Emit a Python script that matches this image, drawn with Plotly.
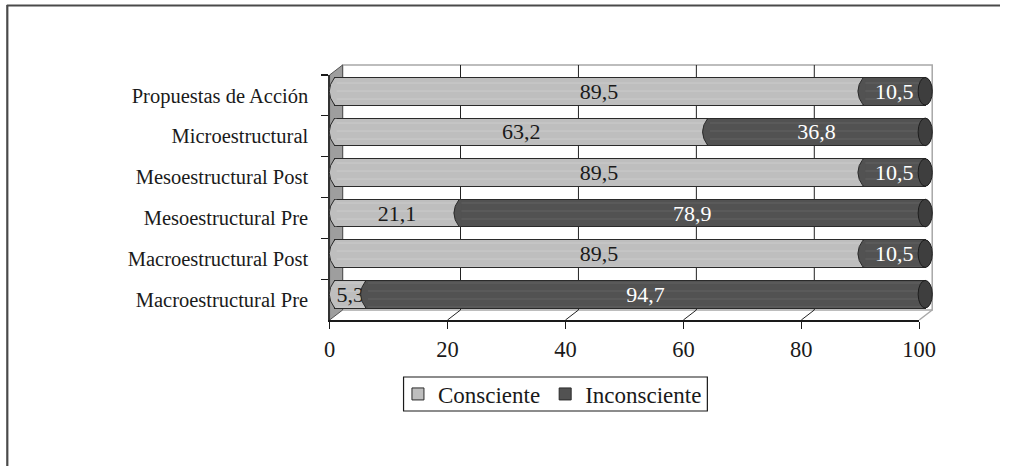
import plotly.graph_objects as go

# ---------------- data ----------------
categories = ["Macroestructural Pre", "Macroestructural Post", "Mesoestructural Pre",
              "Mesoestructural Post", "Microestructural", "Propuestas de Acción"]
consciente = [5.3, 89.5, 21.1, 89.5, 63.2, 89.5]
inconsciente = [94.7, 10.5, 78.9, 10.5, 36.8, 10.5]
x_ticks = [0, 20, 40, 60, 80, 100]
series_names = ["Consciente", "Inconsciente"]

W, H = 1017, 466
FONT = "Liberation Serif"
LIGHT, LIGHT_STRIPE = "#bebebe", "#d6d6d6"
DARK, DARK_STRIPE = "#525252", "#727272"
OUTLINE = "#2a2a2a"

# the capture squeezes the page horizontally a little; pre-compensate
XS, XO = 0.978, 5.2


def X(ref_px):
    return (ref_px - XO) / XS


def px(x):
    return x / W


def py(y):
    return 1 - y / H


def fmt(v):
    return f"{v:.1f}".replace(".", ",")


# geometry of the pseudo-3D box (target pixels)
FRONT_L, FRONT_R, FRONT_B, FRONT_T = X(329), X(919), 320, 75
BACK_L, BACK_R, BACK_B, BACK_T = X(342), X(932), 310, 65

# bar axis: 0 -> 334 px, 100 -> 925 px, with padding so caps are not clipped
BX0, BX100 = X(334), X(925)
PAD = 3.0
SCALE = (BX100 - BX0) / 100.0

fig = go.Figure()

idx = list(range(len(categories)))
BAR_W = 0.68

fig.add_trace(go.Bar(
    y=idx, x=consciente, orientation="h", name=series_names[0], showlegend=False,
    xaxis="x2", yaxis="y2", width=BAR_W,
    marker=dict(color=LIGHT, line=dict(color=OUTLINE, width=1),
                pattern=dict(shape="-", fgcolor=LIGHT_STRIPE, bgcolor=LIGHT, size=8, solidity=0.12)),
    text=[fmt(v) for v in consciente], textposition="inside", insidetextanchor="middle",
    constraintext="none", textangle=0,
    textfont=dict(family=FONT, size=22, color="#1a1a1a"), hoverinfo="skip"))
fig.add_trace(go.Bar(
    y=idx, x=inconsciente, orientation="h", name=series_names[1], showlegend=False,
    xaxis="x2", yaxis="y2", width=BAR_W,
    marker=dict(color=DARK, line=dict(color=OUTLINE, width=1),
                pattern=dict(shape="-", fgcolor=DARK_STRIPE, bgcolor=DARK, size=8, solidity=0.12)),
    text=[fmt(v) for v in inconsciente], textposition="inside", insidetextanchor="middle",
    constraintext="none", textangle=0,
    textfont=dict(family=FONT, size=22, color="white"), hoverinfo="skip"))

# legend-only traces
for name, col in zip(series_names, [LIGHT, DARK]):
    fig.add_trace(go.Bar(y=[None], x=[None], orientation="h", name=name, xaxis="x2", yaxis="y2",
                         marker=dict(color=col, line=dict(color=OUTLINE, width=1)), hoverinfo="skip"))

# dummy trace to carry the category axis labels
fig.add_trace(go.Scatter(x=[0] * len(categories), y=categories, mode="markers",
                         marker=dict(opacity=0), showlegend=False, hoverinfo="skip"))

shapes = []
# outer frame (top and left lines)
shapes.append(dict(type="line", xref="paper", yref="paper", x0=px(X(6)), x1=1, y0=py(5.5), y1=py(5.5),
                   line=dict(color="#4a4a4a", width=2.2)))
shapes.append(dict(type="line", xref="paper", yref="paper", x0=px(X(6.5)), x1=px(X(6.5)), y0=py(5), y1=0,
                   line=dict(color="#4a4a4a", width=2.2)))
# legend box
shapes.append(dict(type="rect", xref="paper", yref="paper", x0=px(X(403)), x1=px(X(707)),
                   y0=py(411), y1=py(377), line=dict(color="#1a1a1a", width=1.2),
                   fillcolor="white", layer="below"))
# back wall
shapes.append(dict(type="rect", xref="paper", yref="paper", x0=px(BACK_L), x1=px(BACK_R),
                   y0=py(BACK_B), y1=py(BACK_T), line=dict(color="#a8a8a8", width=1.5),
                   fillcolor="white", layer="below"))
# left wall
shapes.append(dict(type="path", xref="paper", yref="paper", layer="below",
                   path=f"M {px(FRONT_L)},{py(FRONT_T)} L {px(BACK_L)},{py(BACK_T)} "
                        f"L {px(BACK_L)},{py(BACK_B)} L {px(FRONT_L)},{py(FRONT_B)} Z",
                   fillcolor="#9e9e9e", line=dict(color="#555555", width=1)))
# right wall edge diagonal on floor
shapes.append(dict(type="line", xref="paper", yref="paper", layer="below",
                   x0=px(BACK_R), y0=py(BACK_B), x1=px(FRONT_R), y1=py(FRONT_B),
                   line=dict(color="#a8a8a8", width=1.5)))
# grid lines on back wall + floor diagonals
for t in x_ticks[1:-1]:
    bx = BACK_L + (BACK_R - BACK_L) * t / 100
    fx = FRONT_L + (FRONT_R - FRONT_L) * t / 100
    shapes.append(dict(type="line", xref="paper", yref="paper", layer="below",
                       x0=px(bx), x1=px(bx), y0=py(BACK_B), y1=py(BACK_T),
                       line=dict(color="#222222", width=1)))
    shapes.append(dict(type="line", xref="paper", yref="paper", layer="below",
                       x0=px(bx), y0=py(BACK_B), x1=px(fx), y1=py(FRONT_B),
                       line=dict(color="#222222", width=1)))

# cylinder caps: left bulges of each segment and right end face
D = 0.9   # bulge depth (x units)
HT = BAR_W / 2
for i in idx:
    segs = [(0, LIGHT), (consciente[i], DARK)]
    for s, col in segs:
        ti, bi = i + HT - 0.015, i - HT + 0.015
        shapes.append(dict(type="path", xref="x2", yref="y2", layer="above",
                           path=f"M {s + 0.35},{ti} L {s},{ti} Q {s - 2 * D},{i} {s},{bi} L {s + 0.35},{bi} Z",
                           fillcolor=col, line=dict(width=0)))
        shapes.append(dict(type="path", xref="x2", yref="y2", layer="above",
                           path=f"M {s},{i + HT} Q {s - 2 * D},{i} {s},{i - HT}",
                           fillcolor="rgba(0,0,0,0)", line=dict(color=OUTLINE, width=1)))
    total = consciente[i] + inconsciente[i]
    shapes.append(dict(type="circle", xref="x2", yref="y2", layer="above",
                       x0=total - 1.2, x1=total + 1.2, y0=i - HT, y1=i + HT,
                       fillcolor="#3e3e3e", line=dict(color="#1e1e1e", width=1)))

fig.update_layout(
    width=W, height=H, autosize=False, margin=dict(l=0, r=0, t=0, b=0),
    paper_bgcolor="white", plot_bgcolor="rgba(0,0,0,0)",
    barmode="stack", bargap=0,
    font=dict(family=FONT, color="#1a1a1a"),
    shapes=shapes,
    xaxis=dict(domain=[px(FRONT_L), px(FRONT_R)], range=[0, 100], tickvals=x_ticks,
               ticktext=[str(t) for t in x_ticks], anchor="y",
               showline=True, linecolor="#1a1a1a", linewidth=1.5, ticks="outside", ticklen=7,
               tickcolor="#1a1a1a", tickwidth=1.3, showgrid=False, zeroline=False,
               tickfont=dict(family=FONT, size=22.5, color="#1a1a1a"), ticklabelstandoff=1),
    yaxis=dict(domain=[py(FRONT_B), py(FRONT_T)], type="category", categoryorder="array",
               categoryarray=categories, range=[-0.5, len(categories) - 0.5], anchor="x",
               showline=True, linecolor="#333333", linewidth=1.3, ticks="outside", ticklen=7,
               tickson="boundaries", tickcolor="#1a1a1a", tickwidth=1.3, showgrid=False,
               zeroline=False, tickfont=dict(family=FONT, size=20.5, color="#1a1a1a"),
               ticklabelstandoff=16),
    xaxis2=dict(domain=[px(BX0 - PAD * SCALE), px(BX100 + PAD * SCALE)], range=[-PAD, 100 + PAD],
                anchor="y2", visible=False),
    yaxis2=dict(domain=[py(314.5), py(71)], range=[-0.5, len(categories) - 0.5], anchor="x2",
                visible=False),
    legend=dict(orientation="h", x=px(X(552)), xanchor="center", y=py(394), yanchor="middle",
                borderwidth=0, bgcolor="rgba(0,0,0,0)",
                font=dict(family=FONT, size=23, color="#1a1a1a"), itemwidth=30,
                traceorder="normal"),
)

POST = ("document.documentElement.style.margin='0';document.documentElement.style.padding='0';"
        "document.documentElement.style.overflow='hidden';"
        "document.body.style.margin='0';document.body.style.padding='0';"
        "document.body.style.overflow='hidden';"
        "var d=document.getElementById('{plot_id}');"
        "d.style.position='fixed';d.style.left='0px';d.style.top='0px';")

fig.write_html("out.html",
               config={"responsive": False, "displayModeBar": False, "staticPlot": True},
               post_script=POST)
